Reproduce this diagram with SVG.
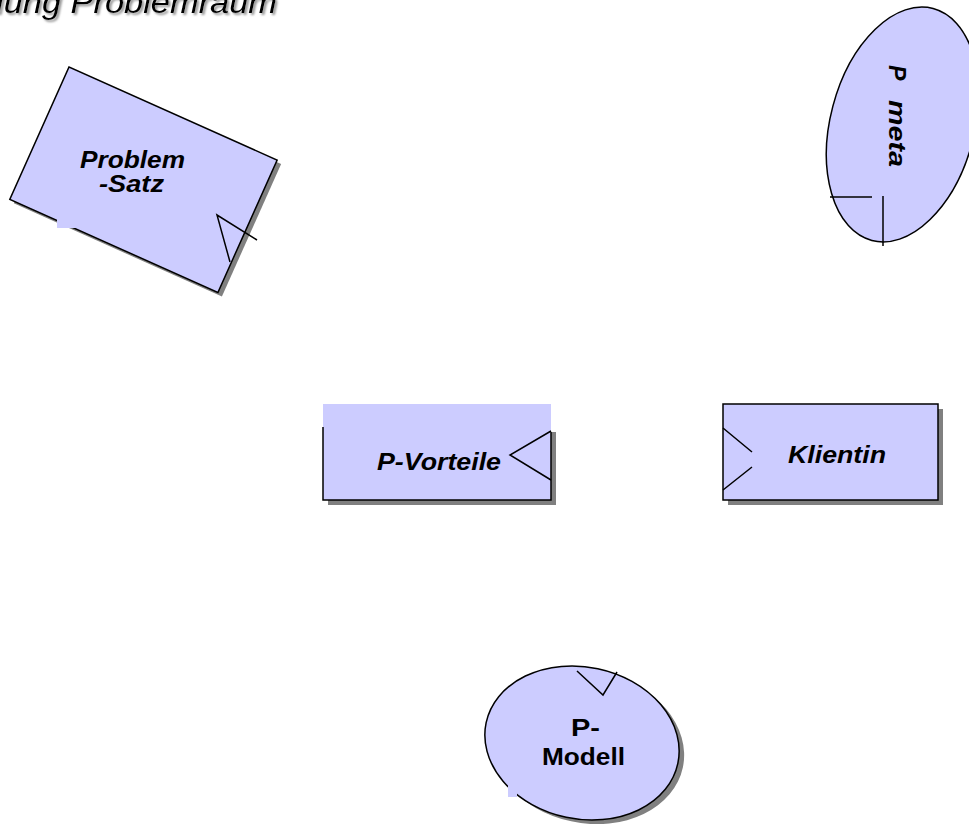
<svg xmlns="http://www.w3.org/2000/svg" width="969" height="827" viewBox="0 0 969 827">
<defs>
<style>
.fill{fill:#ccccff;}
.node{fill:#ccccff;stroke:#000;stroke-width:1.5;}
.edge{fill:none;stroke:#000;stroke-width:1.5;}
.shadow{fill:#808080;}
.lbl{font-family:"Liberation Sans",Arial,sans-serif;font-weight:bold;font-style:italic;font-size:23px;fill:#000;}
.lblr{font-family:"Liberation Sans",Arial,sans-serif;font-weight:bold;font-size:23px;fill:#000;}
.title{font-family:"Liberation Sans",Arial,sans-serif;font-style:italic;font-size:32px;fill:#000;}
</style>
<filter id="tshadow" x="-5%" y="-50%" width="110%" height="200%">
<feDropShadow dx="2" dy="2" stdDeviation="1" flood-color="#888" flood-opacity="0.9"/>
</filter>
</defs>
<rect width="969" height="827" fill="#fff"/>
<g id="title">
<text class="title" x="-4" y="13" textLength="281" lengthAdjust="spacingAndGlyphs" filter="url(#tshadow)">lung Problemraum</text>
</g>
<g id="problem-satz">
<rect class="shadow" x="0" y="0" width="228" height="145" transform="translate(73,71) rotate(24.1)"/>
<rect class="node" x="0" y="0" width="228" height="145" transform="translate(69,67) rotate(24.1)"/>
<rect class="fill" x="57" y="212" width="20" height="16"/>
<path class="edge" d="M257,240 L217,215 L230,262"/>
<text class="lbl" x="80" y="168" textLength="105" lengthAdjust="spacingAndGlyphs">Problem</text>
<text class="lbl" x="99" y="192" textLength="65" lengthAdjust="spacingAndGlyphs">-Satz</text>
</g>
<g id="p-meta">
<ellipse class="node" cx="902.5" cy="124.5" rx="72" ry="120" transform="rotate(14.8 902.5 124.5)"/>
<path class="edge" d="M830,197 H872 M883,196 V246"/>
<text class="lbl" font-size="21" transform="translate(889,65) rotate(90)"><tspan x="0" y="0">P</tspan> <tspan x="35" y="0" textLength="67" lengthAdjust="spacingAndGlyphs">meta</tspan></text>
</g>
<g id="p-vorteile">
<rect class="shadow" x="328" y="432" width="228" height="73"/>
<rect class="fill" x="323" y="404" width="228" height="96"/>
<path class="edge" d="M323,427 V500 H551 V432"/>
<path class="edge" d="M551,431 L510,455 L551,480"/>
<text class="lbl" x="377" y="470" textLength="124" lengthAdjust="spacingAndGlyphs">P-Vorteile</text>
</g>
<g id="klientin">
<rect class="shadow" x="728" y="409" width="215" height="96"/>
<rect class="node" x="723" y="404" width="215" height="96"/>
<path class="edge" d="M723,428 L752,452 M752,467 L723,490"/>
<text class="lbl" x="788" y="463" textLength="98" lengthAdjust="spacingAndGlyphs">Klientin</text>
</g>
<g id="p-modell">
<ellipse class="shadow" cx="587" cy="747" rx="98" ry="76" transform="rotate(12 587 747)"/>
<ellipse class="node" cx="582" cy="743" rx="98" ry="76" transform="rotate(12 582 743)"/>
<rect class="fill" x="508" y="782" width="9" height="15"/>
<path class="edge" d="M577,671 L603,695 L617,672"/>
<text class="lblr" x="571" y="736" textLength="29" lengthAdjust="spacingAndGlyphs">P-</text>
<text class="lblr" x="542" y="765" textLength="83" lengthAdjust="spacingAndGlyphs">Modell</text>
</g>
<g id="connectors"/>
</svg>
